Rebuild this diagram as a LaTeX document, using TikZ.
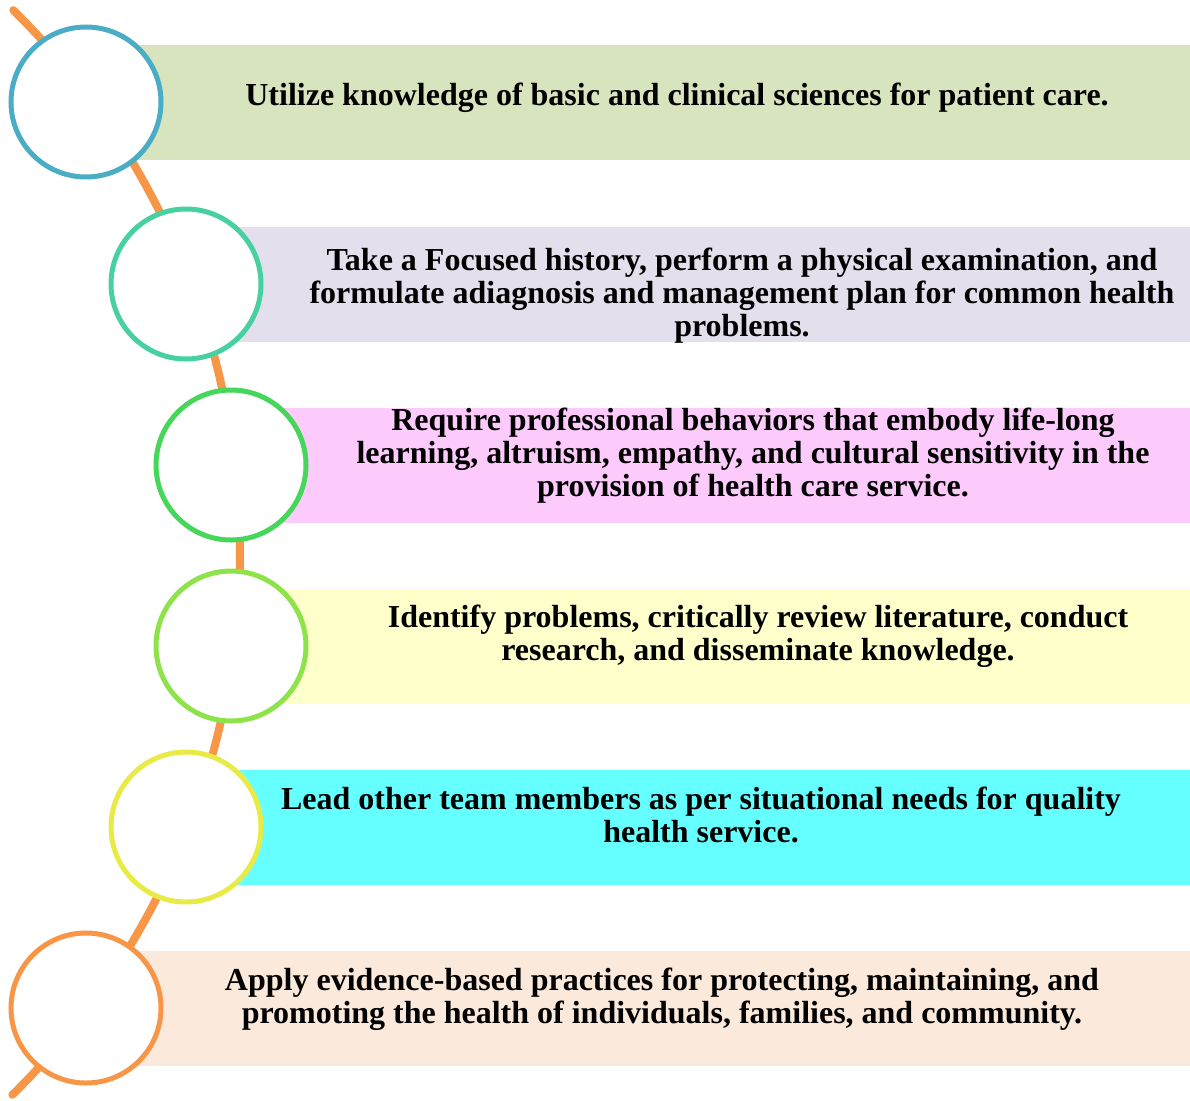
\documentclass[tikz,border=0pt]{standalone}
\usepackage{fontspec}
\setmainfont{Liberation Serif}
\definecolor{bandA}{HTML}{D7E4BD}
\definecolor{bandB}{HTML}{E4DFEC}
\definecolor{bandC}{HTML}{FCCBFC}
\definecolor{bandD}{HTML}{FFFFCC}
\definecolor{bandE}{HTML}{66FFFF}
\definecolor{bandF}{HTML}{FBE9DB}
\definecolor{ringA}{HTML}{4BACC6}
\definecolor{ringB}{HTML}{48D1A0}
\definecolor{ringC}{HTML}{45D65A}
\definecolor{ringD}{HTML}{8EE34A}
\definecolor{ringE}{HTML}{E8EB45}
\definecolor{ringF}{HTML}{F79646}
\begin{document}
\begin{tikzpicture}[x=1pt,y=-1pt,
    band/.style={anchor=west,inner sep=0pt,minimum height=115,draw=none},
    ring/.style={circle,fill=white,line width=5pt,minimum size=150,inner sep=0pt},
    spine/.style={draw=ringF,line width=8pt,line cap=round},
    goal/.style={anchor=north,align=center,inner sep=0pt,
        font=\fontsize{32}{33}\selectfont\bfseries}]
    \useasboundingbox (0,0) rectangle (1190,1100);

    % coloured bands
    \node[band,fill=bandA,minimum width=1104] (bandA) at (86,102) {};
    \node[band,fill=bandB,minimum width=1004] (bandB) at (186,284) {};
    \node[band,fill=bandC,minimum width=959] (bandC) at (231,465) {};
    \node[band,fill=bandD,minimum width=959] (bandD) at (231,646) {};
    \node[band,fill=bandE,minimum width=1004] (bandE) at (186,827) {};
    \node[band,fill=bandF,minimum width=1104] (bandF) at (86,1008) {};

    % the curved line behind the rings
    \coordinate (spC) at (-521,552);
    \draw[spine] (spC) ++(45.4:761pt) arc[start angle=45.4,end angle=-45.5,radius=761pt];

    % rings
    \node[ring,draw=ringA] (ringA) at (86,102) {};
    \node[ring,draw=ringB] (ringB) at (186,284) {};
    \node[ring,draw=ringC] (ringC) at (231,465) {};
    \node[ring,draw=ringD] (ringD) at (231,646) {};
    \node[ring,draw=ringE] (ringE) at (186,827) {};
    \node[ring,draw=ringF] (ringF) at (86,1008) {};

    % texts
    \node[goal] (goalA) at (677,83) {Utilize knowledge of basic and clinical sciences for patient care.};
    \node[goal] (goalB) at (742,248) {Take a Focused history, perform a physical examination, and\\
        formulate adiagnosis and management plan for common health\\ problems.};
    \node[goal] (goalC) at (753,408) {Require professional behaviors that embody life-long\\
        learning, altruism, empathy, and cultural sensitivity in the\\ provision of health care service.};
    \node[goal] (goalD) at (758,605) {Identify problems, critically review literature, conduct\\
        research, and disseminate knowledge.};
    \node[goal] (goalE) at (701,787) {Lead other team members as per situational needs for quality\\
        health service.};
    \node[goal] (goalF) at (662,968) {Apply evidence-based practices for protecting, maintaining, and\\
        promoting the health of individuals, families, and community.};
\end{tikzpicture}
\end{document}
